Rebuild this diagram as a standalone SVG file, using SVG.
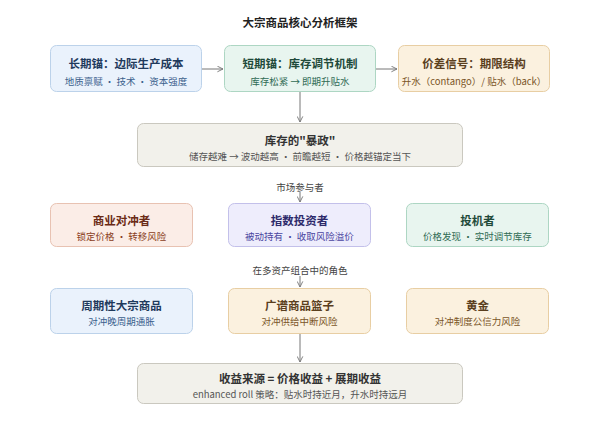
<svg xmlns="http://www.w3.org/2000/svg" width="600" height="433" viewBox="0 0 600 433">
<style>
text{font-family:"Noto Sans CJK SC","Noto Sans",sans-serif;text-anchor:middle}
.t{font-size:11.5px;font-weight:bold}
.s{font-size:9.5px}
.lbl{font-size:9.5px;fill:#444}
.conn{stroke:#777;stroke-width:1;fill:none;marker-end:url(#ah)}
.blue rect{fill:#eaf2fc;stroke:#bcd2ea}
.blue .t{fill:#1f3a5c}.blue .s{fill:#3b5f8c}
.green rect{fill:#e8f5ef;stroke:#add6c3}
.green .t{fill:#1f4a3a}.green .s{fill:#2f6b54}
.tan rect{fill:#fbf1df;stroke:#e8cea3}
.tan .t{fill:#5a3f1e}.tan .s{fill:#7a5527}
.grey rect{fill:#f2f1eb;stroke:#cac8bf}
.grey .t{fill:#333}.grey .s{fill:#555}
.peach rect{fill:#fbede7;stroke:#e8c2b2}
.peach .t{fill:#6b2b16}.peach .s{fill:#8a3d22}
.violet rect{fill:#eeedfc;stroke:#c3c0ea}
.violet .t{fill:#2d2a6b}.violet .s{fill:#4a45a0}
rect{stroke-width:1}
</style>
<defs>
<marker id="ah" viewBox="0 0 10 10" refX="9" refY="5" markerWidth="7" markerHeight="7" orient="auto" markerUnits="userSpaceOnUse">
<path d="M1,1 L9,5 L1,9" fill="none" stroke="#777" stroke-width="1.3"/>
</marker>
</defs>
<rect width="600" height="433" fill="#ffffff"/>
<text x="300" y="27" style="font-size:11.5px;font-weight:bold;fill:#222">大宗商品核心分析框架</text>

<g id="connectors">
<line class="conn" x1="202" y1="69" x2="223" y2="69"/>
<line class="conn" x1="375" y1="69" x2="397" y2="69"/>
<line class="conn" x1="300" y1="92" x2="300" y2="122"/>
<line class="conn" x1="300" y1="192" x2="300" y2="202"/>
<line class="conn" x1="300" y1="276" x2="300" y2="287"/>
<line class="conn" x1="300" y1="334" x2="300" y2="362"/>
<text class="lbl" x="300" y="190.5">市场参与者</text>
<text class="lbl" x="300" y="273.5">在多资产组合中的角色</text>
</g>

<g id="long-anchor" class="blue">
<rect x="50.5" y="45.5" width="151" height="46" rx="6"/>
<text class="t" x="126" y="68">长期锚：边际生产成本</text>
<text class="s" x="126" y="84.5">地质禀赋 · 技术 · 资本强度</text>
</g>
<g id="short-anchor" class="green">
<rect x="224.5" y="45.5" width="151" height="46" rx="6"/>
<text class="t" x="300" y="68">短期锚：库存调节机制</text>
<text class="s" x="300" y="84.5">库存松紧 → 即期升贴水</text>
</g>
<g id="spread-signal" class="tan">
<rect x="398.5" y="45.5" width="151" height="46" rx="6"/>
<text class="t" x="474" y="68">价差信号：期限结构</text>
<text class="s" x="474" y="84.5">升水（contango）/ 贴水（back）</text>
</g>

<g id="inventory" class="grey">
<rect x="137.5" y="123.5" width="325" height="43" rx="6"/>
<text class="t" x="300" y="145">库存的"暴政"</text>
<text class="s" x="300" y="159.5">储存越难 → 波动越高 · 前瞻越短 · 价格越锚定当下</text>
</g>

<g id="hedgers" class="peach">
<rect x="50.5" y="203.5" width="142" height="43" rx="6"/>
<text class="t" x="121.5" y="225">商业对冲者</text>
<text class="s" x="121.5" y="239.5">锁定价格 · 转移风险</text>
</g>
<g id="index-investors" class="violet">
<rect x="228.5" y="203.5" width="142" height="43" rx="6"/>
<text class="t" x="299.5" y="225">指数投资者</text>
<text class="s" x="299.5" y="239.5">被动持有 · 收取风险溢价</text>
</g>
<g id="speculators" class="green">
<rect x="406.5" y="203.5" width="142" height="43" rx="6"/>
<text class="t" x="477.5" y="225">投机者</text>
<text class="s" x="477.5" y="239.5">价格发现 · 实时调节库存</text>
</g>

<g id="cyclical" class="blue">
<rect x="50.5" y="288.5" width="142" height="45" rx="6"/>
<text class="t" x="121.5" y="310">周期性大宗商品</text>
<text class="s" x="121.5" y="324.5">对冲晚周期通胀</text>
</g>
<g id="broad-basket" class="tan">
<rect x="228.5" y="288.5" width="142" height="45" rx="6"/>
<text class="t" x="299.5" y="310">广谱商品篮子</text>
<text class="s" x="299.5" y="324.5">对冲供给中断风险</text>
</g>
<g id="gold" class="tan">
<rect x="406.5" y="288.5" width="142" height="45" rx="6"/>
<text class="t" x="477.5" y="310">黄金</text>
<text class="s" x="477.5" y="324.5">对冲制度公信力风险</text>
</g>

<g id="return-source" class="grey">
<rect x="137.5" y="363.5" width="325" height="40" rx="6"/>
<text class="t" x="300" y="383">收益来源 = 价格收益 + 展期收益</text>
<text class="s" x="300" y="397.5">enhanced roll 策略：贴水时持近月，升水时持远月</text>
</g>
</svg>
